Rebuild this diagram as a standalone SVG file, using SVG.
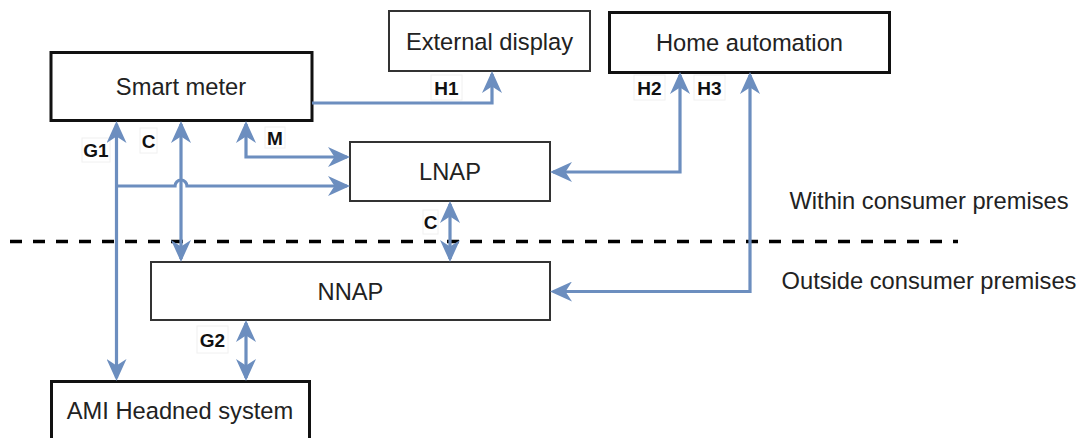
<svg xmlns="http://www.w3.org/2000/svg" width="1084" height="438" viewBox="0 0 1084 438">
  <style>
    .box { fill: #ffffff; }
    .thick { stroke: #111111; stroke-width: 3; }
    .thin { stroke: #333333; stroke-width: 2; }
    .txt { font-family: "Liberation Sans", Arial, sans-serif; font-size: 23.7px; fill: #222222; text-anchor: middle; }
    .lbl { font-family: "Liberation Sans", Arial, sans-serif; font-size: 19px; font-weight: bold; fill: #111111; text-anchor: middle; }
    .lblbg { fill: #ffffff; stroke: #f0f0f0; stroke-width: 1; }
    .edge { fill: none; stroke: #6c8ebf; stroke-width: 3.2; }
    .one { marker-end: url(#arr); }
    .two { marker-start: url(#arr); marker-end: url(#arr); }
  </style>
  <defs>
    <marker id="arr" markerUnits="userSpaceOnUse" viewBox="0 0 22 20" markerWidth="22" markerHeight="20" refX="19" refY="10" orient="auto-start-reverse">
      <path d="M0,0 L22,10 L0,20 L6.5,10 Z" fill="#6c8ebf"/>
    </marker>
  </defs>
  <rect width="1084" height="438" fill="#ffffff"/>

  <!-- boundary -->
  <line x1="10" y1="241.5" x2="958" y2="241.5" stroke="#000000" stroke-width="3.5" stroke-dasharray="12 11"/>
  <text class="txt" x="929" y="208.5">Within consumer premises</text>
  <text class="txt" x="929" y="288.5">Outside consumer premises</text>

  <g id="smart-meter">
    <rect class="box thick" x="51" y="52.5" width="261" height="68"/>
    <text class="txt" x="181" y="95">Smart meter</text>
  </g>
  <g id="external-display">
    <rect class="box thin" x="389" y="11" width="201" height="60"/>
    <text class="txt" x="489.5" y="49.5">External display</text>
  </g>
  <g id="home-automation">
    <rect class="box thick" x="609.5" y="12.5" width="280" height="60"/>
    <text class="txt" x="749.5" y="50.5">Home automation</text>
  </g>
  <g id="lnap">
    <rect class="box thin" x="350" y="142" width="200" height="59"/>
    <text class="txt" x="450" y="179.5">LNAP</text>
  </g>
  <g id="nnap">
    <rect class="box thin" x="151" y="262" width="399" height="58"/>
    <text class="txt" x="350.5" y="299.5">NNAP</text>
  </g>
  <g id="ami-headend">
    <rect class="box thick" x="51.5" y="381.5" width="258" height="62"/>
    <text class="txt" x="180" y="418.5">AMI Headned system</text>
  </g>

  <g id="connectors">
    <!-- labels -->
    <rect class="lblbg" x="82" y="138" width="28" height="24"/>
    <text class="lbl" x="96" y="157">G1</text>
    <rect class="lblbg" x="140" y="128" width="17" height="25"/>
    <text class="lbl" x="148.5" y="147.5">C</text>
    <rect class="lblbg" x="265" y="127" width="20" height="21"/>
    <text class="lbl" x="275" y="144.5">M</text>
    <rect class="lblbg" x="431" y="75" width="31" height="25"/>
    <text class="lbl" x="446.5" y="94.5">H1</text>
    <rect class="lblbg" x="634" y="75" width="31" height="25"/>
    <text class="lbl" x="649.5" y="94.5">H2</text>
    <rect class="lblbg" x="694" y="75" width="31" height="25"/>
    <text class="lbl" x="709.5" y="94.5">H3</text>
    <rect class="lblbg" x="423" y="210" width="15" height="24"/>
    <text class="lbl" x="430.5" y="229">C</text>
    <rect class="lblbg" x="197" y="326" width="31" height="27"/>
    <text class="lbl" x="212.5" y="346.5">G2</text>

    <!-- G1: smart meter <-> AMI -->
    <path class="edge two" d="M116.5,124 L116.5,378"/>
    <!-- G1 branch to LNAP with hop over C -->
    <path class="edge one" d="M116.5,186 L175,186 A6,6 0 0 1 187,186 L347,186"/>
    <!-- C: smart meter <-> NNAP -->
    <path class="edge two" d="M181,124 L181,259"/>
    <!-- M: smart meter <-> LNAP -->
    <path class="edge two" d="M246,124 L246,157 L347,157"/>
    <!-- H1 -->
    <path class="edge one" d="M312,103 L492,103 L492,74"/>
    <!-- H2 -->
    <path class="edge two" d="M680,75 L680,172 L553,172"/>
    <!-- H3 -->
    <path class="edge two" d="M750,75 L750,291.5 L553,291.5"/>
    <!-- C: LNAP <-> NNAP -->
    <path class="edge two" d="M450,204 L450,259"/>
    <!-- G2 -->
    <path class="edge two" d="M246,323 L246,378"/>
  </g>
</svg>
